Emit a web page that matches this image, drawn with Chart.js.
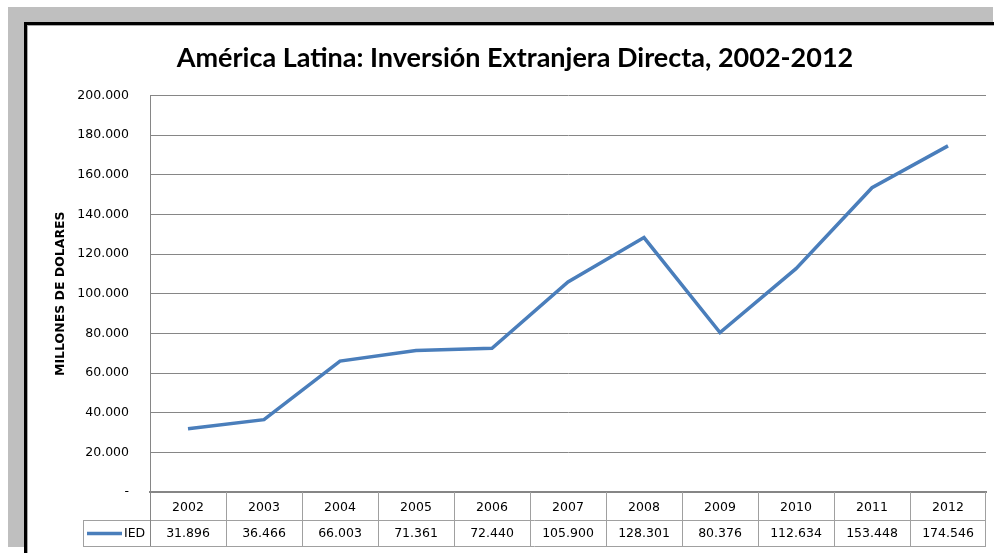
<!DOCTYPE html>
<html>
<head>
<meta charset="utf-8">
<title>IED America Latina</title>
<script src="https://cdn.jsdelivr.net/npm/chart.js@4"></script>
<style>
    body { margin: 0; background: #ffffff; }
    #wrap { width: 994px; height: 553px; }
    canvas { display: block; }
</style>
</head>
<body>
<div id="wrap">
    <canvas id="iedChart" width="994" height="553"></canvas>
</div>
<script>
// Data
const years = ['2002', '2003', '2004', '2005', '2006', '2007', '2008', '2009', '2010', '2011', '2012'];
const iedValues = [31896, 36466, 66003, 71361, 72440, 105900, 128301, 80376, 112634, 153448, 174546];
const seriesName = 'IED';
const yMax = 200000;
const yStep = 20000;

const lineColor = '#4a7ebb';
const gridColor = '#868686';
const tableColor = '#a0a0a0';
const textFont = '12.5px "DejaVu Sans"';

// 200000 -> "200.000", 0 -> "-"
function formatMiles(v) {
    if (v === 0) return '-';
    return String(v).replace(/\B(?=(\d{3})+(?!\d))/g, '.');
}

// Grey window frame with the black edge around the chart
const framePlugin = {
    id: 'frame',
    beforeDraw(chart) {
        const ctx = chart.ctx;
        ctx.save();
        ctx.fillStyle = '#ffffff';
        ctx.fillRect(0, 0, chart.width, chart.height);
        ctx.fillStyle = '#bfbfbf';
        ctx.fillRect(8, 7, 985, 15);
        ctx.fillRect(8, 7, 16, 540);
        ctx.fillStyle = '#000000';
        ctx.fillRect(24, 22, 970, 3);
        ctx.fillRect(24, 22, 3, 531);
        ctx.fillStyle = '#a8a8a8';
        ctx.fillRect(27, 25, 967, 1);
        ctx.fillRect(27, 25, 1, 528);
        ctx.restore();
    }
};

// Excel style data table under the x axis
const tablePlugin = {
    id: 'dataTable',
    afterDraw(chart) {
        const ctx = chart.ctx;
        const x = chart.scales.x;
        const area = chart.chartArea;
        const top = area.bottom;
        const mid = top + 28;
        const bottom = mid + 26;
        const legendLeft = 83;

        ctx.save();
        ctx.strokeStyle = tableColor;
        ctx.lineWidth = 1;
        ctx.beginPath();
        // horizontal lines
        ctx.moveTo(legendLeft, mid + 0.5);
        ctx.lineTo(area.right, mid + 0.5);
        ctx.moveTo(legendLeft, bottom + 0.5);
        ctx.lineTo(area.right, bottom + 0.5);
        // legend cell left side
        ctx.moveTo(legendLeft + 0.5, mid);
        ctx.lineTo(legendLeft + 0.5, bottom);
        // column separators
        for (let i = 1; i < years.length; i++) {
            const bx = Math.round((x.getPixelForValue(i - 1) + x.getPixelForValue(i)) / 2) + 0.5;
            ctx.moveTo(bx, top);
            ctx.lineTo(bx, bottom);
        }
        ctx.moveTo(Math.round(area.right) - 0.5, top);
        ctx.lineTo(Math.round(area.right) - 0.5, bottom);
        ctx.stroke();

        // y axis line carried down through the table
        ctx.strokeStyle = gridColor;
        ctx.beginPath();
        ctx.moveTo(Math.round(area.left) + 0.5, top);
        ctx.lineTo(Math.round(area.left) + 0.5, bottom);
        ctx.stroke();

        // legend key
        const rowY = (mid + bottom) / 2 + 0.5;
        ctx.strokeStyle = lineColor;
        ctx.lineWidth = 3.5;
        ctx.beginPath();
        ctx.moveTo(87, rowY);
        ctx.lineTo(122, rowY);
        ctx.stroke();

        ctx.fillStyle = '#000000';
        ctx.font = textFont;
        ctx.textBaseline = 'middle';
        ctx.textAlign = 'left';
        ctx.fillText(seriesName, 124, rowY);

        // values row
        ctx.textAlign = 'center';
        iedValues.forEach((v, i) => {
            ctx.fillText(formatMiles(v), x.getPixelForValue(i), rowY);
        });
        ctx.restore();
    }
};

const ctx = document.getElementById('iedChart').getContext('2d');

new Chart(ctx, {
    type: 'line',
    data: {
        labels: years,
        datasets: [{
            label: seriesName,
            data: iedValues,
            borderColor: lineColor,
            backgroundColor: lineColor,
            borderWidth: 3.5,
            pointRadius: 0,
            tension: 0,
            fill: false
        }]
    },
    options: {
        responsive: false,
        animation: false,
        devicePixelRatio: 1,
        layout: {
            padding: { left: 44, right: 8, top: 0, bottom: 33 }
        },
        plugins: {
            legend: { display: false },
            tooltip: { enabled: false },
            title: {
                display: true,
                text: 'América Latina: Inversión Extranjera Directa, 2002-2012',
                color: '#000000',
                font: { family: 'Lato', size: 27, weight: 'bold' },
                padding: { top: 42, bottom: 21 }
            }
        },
        scales: {
            x: {
                offset: true,
                grid: { display: false, drawTicks: false },
                border: { display: true, color: gridColor, width: 2 },
                ticks: {
                    color: '#000000',
                    font: { family: 'DejaVu Sans', size: 12.5 },
                    padding: 8,
                    maxRotation: 0,
                    autoSkip: false
                },
                afterFit(scale) { scale.height = 28; }
            },
            y: {
                min: 0,
                max: yMax,
                grid: { color: gridColor, drawTicks: false },
                border: { display: true, color: gridColor, width: 1 },
                ticks: {
                    stepSize: yStep,
                    color: '#000000',
                    font: { family: 'DejaVu Sans', size: 12.5 },
                    padding: 21,
                    callback: (v) => formatMiles(v)
                },
                title: {
                    display: true,
                    text: 'MILLONES DE DOLARES',
                    color: '#000000',
                    font: { family: 'DejaVu Sans', size: 12.5, weight: 'bold' },
                    padding: { top: 9, bottom: 0 }
                },
                afterFit(scale) { scale.width = 106; }
            }
        }
    },
    plugins: [framePlugin, tablePlugin]
});
</script>
</body>
</html>
